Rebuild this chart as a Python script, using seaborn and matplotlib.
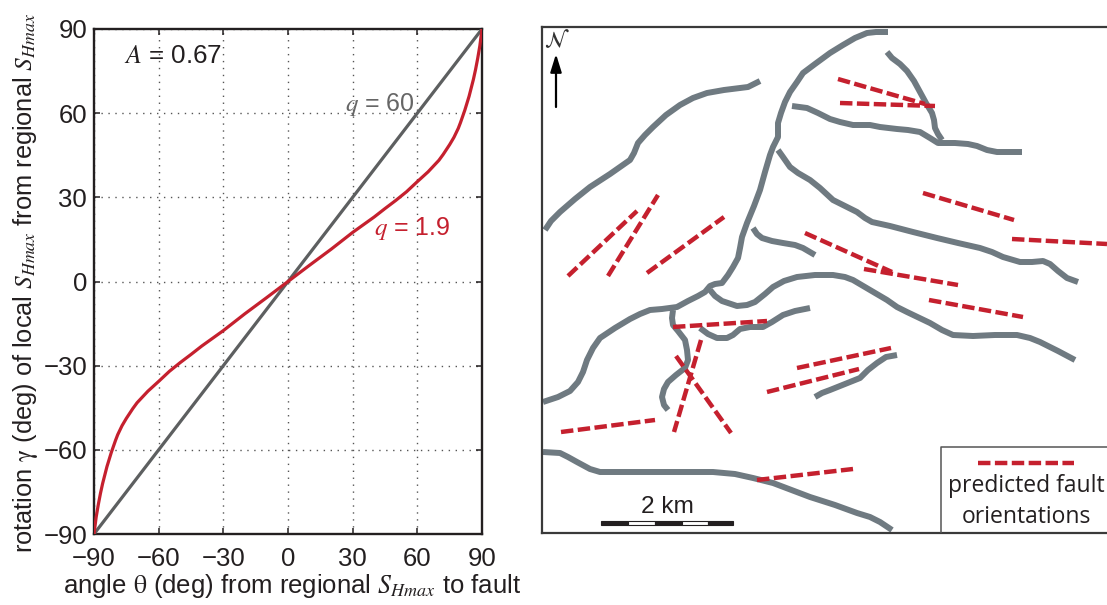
import matplotlib
matplotlib.use("Agg")
import matplotlib.pyplot as plt
import seaborn as sns

W, H = 1107, 605

# ---- left panel data (degrees)
ticks = [-90, -60, -30, 0, 30, 60, 90]
theta_line = [-90, 90]
gamma_line = [-90, 90]
theta_curve = [-90, -89.5, -89, -88, -87, -86, -85, -84, -83, -82, -81, -80, -79, -77, -75, -72, -70, -65, -60, -55, -50, -45, -40, -30, -20, -10, 0,
               10, 20, 30, 40, 45, 50, 55, 60, 65, 70, 72, 75, 77, 79, 80, 81, 82, 83, 84, 85, 86, 87, 88, 89, 89.5, 90]
gamma_curve = [-90, -87, -84, -79.5, -75.5, -72, -69, -66, -63.5, -61, -58.8, -56.6, -54.6, -51.4, -48.8, -45.3, -43.2, -39.1, -35.6, -32, -28.9, -26, -23, -17.5, -11.5, -5.8, 0,
               5.8, 11.5, 17.5, 23, 26, 28.9, 32, 35.6, 39.1, 43.2, 45.3, 48.8, 51.4, 54.6, 56.6, 58.8, 61, 63.5, 66, 69, 72, 75.5, 79.5, 84, 87, 90]

# ---- right panel data (map pixels)
faults = {
    "f1": ([545, 551, 560, 575, 590, 610, 630, 634, 638, 645, 653, 666, 680, 693, 707, 724, 740, 748, 754, 760],
           [230, 221, 212, 199, 187, 174, 160, 153, 143, 135, 127, 115, 105, 98, 93, 90, 88, 87, 84, 81]),
    "f2": ([888, 876, 867, 855, 843, 830, 815, 803, 797, 790, 785, 781, 778, 778, 773, 770, 765, 760, 754, 747, 742, 740, 738, 733, 728, 722, 715, 710, 705, 698, 688, 677, 662, 650, 640, 630, 615, 600, 593, 587, 583, 578, 570, 558, 543],
           [32, 32, 33, 38, 45, 53, 64, 73, 82, 92, 102, 113, 123, 137, 147, 155, 172, 190, 206, 223, 237, 248, 258, 267, 275, 283, 284, 286, 292, 296, 301, 307, 309, 310, 314, 319, 328, 338, 348, 360, 372, 382, 391, 397, 402]),
    "f3": ([1022, 1010, 997, 987, 977, 968, 955, 938, 930, 920, 908, 897, 880, 870, 853, 840, 830, 818, 807, 792],
           [152, 152, 152, 150, 146, 144, 143, 143, 138, 132, 130, 129, 127, 125, 125, 122, 119, 113, 108, 106]),
    "f4": ([887, 892, 900, 907, 914, 920, 926, 932, 934, 935, 938, 942], [52, 58, 64, 71, 81, 92, 103, 113, 120, 128, 134, 140]),
    "f5": ([778, 783, 790, 798, 810, 820, 833, 845, 857, 865, 872, 890, 913, 937, 958, 980, 992, 1003, 1020, 1032, 1043, 1050, 1058, 1067, 1078],
           [150, 157, 167, 173, 180, 188, 200, 206, 212, 218, 222, 226, 232, 238, 243, 248, 252, 257, 262, 262, 261, 264, 271, 278, 282]),
    "f6": ([753, 757, 762, 772, 783, 795, 803, 815], [228, 234, 238, 241, 243, 245, 248, 255]),
    "f7": ([710, 715, 722, 737, 747, 755, 765, 773, 784, 797, 815, 833, 845, 853, 870, 887, 897, 907, 930, 942, 953, 973, 995, 1017, 1030, 1040, 1058, 1075],
           [290, 296, 301, 306, 305, 302, 294, 287, 281, 277, 275, 275, 277, 280, 290, 300, 307, 312, 323, 330, 335, 336, 335, 335, 338, 342, 351, 360]),
    "f8": ([700, 708, 717, 727, 733, 740, 750, 763, 772, 783, 795, 810], [328, 334, 338, 338, 335, 329, 327, 327, 322, 315, 311, 308]),
    "f9": ([673, 672, 673, 678, 685, 687, 688, 685, 676, 668, 664, 662, 664, 668], [310, 318, 325, 331, 340, 350, 360, 368, 375, 382, 389, 397, 405, 410]),
    "f10": ([815, 822, 830, 845, 860, 868, 877, 886, 897], [397, 393, 390, 384, 378, 370, 363, 357, 355]),
    "f11": ([543, 560, 568, 577, 590, 600, 640, 673, 713, 735, 753, 773, 810, 835, 857, 870, 880, 892],
            [452, 453, 457, 462, 469, 472, 472, 472, 472, 474, 478, 483, 497, 505, 513, 517, 522, 530]),
}
predicted = {
    "r1": ([568, 637], [276, 211]), "r2": ([608, 658], [276, 195]), "r3": ([647, 724], [273, 217]),
    "r4": ([838, 925], [79, 104]), "r5": ([840, 935], [103, 106]), "r6": ([923, 1014], [193, 220]),
    "r7": ([1012, 1107], [239, 244]), "r8": ([805, 892], [233, 272]), "r9": ([864, 958], [269, 285]),
    "r10": ([929, 1023], [300, 317]), "r11": ([673, 767], [327, 321]), "r12": ([701, 674], [340, 432]),
    "r13": ([676, 731], [356, 433]), "r14": ([561, 655], [432, 420]), "r15": ([797, 891], [368, 348]),
    "r16": ([767, 859], [392, 369]), "r17": ([757, 853], [480, 469]), "legend": ([978, 1074], [463, 463]),
}
scale_edges = [601, 628, 655, 682, 708, 733]
scale_labels = "2 km"
legend_label = "predicted fault\norientations"

GRAY = "#6f7a81"
RED = "#c5202e"
INK = "#231f20"

sns.set_theme(style="ticks")
plt.rcParams["font.family"] = ["Liberation Sans", "DejaVu Sans"]
plt.rcParams["mathtext.fontset"] = "stix"
plt.rcParams["xtick.direction"] = "in"
plt.rcParams["ytick.direction"] = "in"

fig = plt.figure(figsize=(W / 100, H / 100), dpi=100, facecolor="white")


def box(l, t, r, b):
    return [l / W, 1 - b / H, (r - l) / W, (b - t) / H]


# ---- left panel
ax = fig.add_axes(box(94, 29, 482, 534))
ax.set_xlim(-90, 90)
ax.set_ylim(-90, 90)
ax.grid(True, color="#555555", linestyle=(0, (1, 4)), linewidth=1.0)
ax.set_axisbelow(True)
sns.lineplot(x=theta_line, y=gamma_line, color="#5d5f60", linewidth=2.3, ax=ax, legend=False, zorder=3)
sns.lineplot(x=theta_curve, y=gamma_curve, color=RED, linewidth=2.3, ax=ax, legend=False, zorder=4)
ax.set_xticks(ticks)
ax.set_yticks(ticks)
ax.tick_params(top=True, right=True, length=4, width=1.1, color=INK, labelsize=18.5, labelcolor=INK)
ax.tick_params(axis="x", pad=9)
ax.tick_params(axis="y", pad=5)
for s in ax.spines.values():
    s.set_visible(True)
    s.set_linewidth(1.7)
    s.set_color(INK)
ax.set_xlabel(r"angle $\mathrm{\theta}$ (deg) from regional $S_{Hmax}$ to fault", fontsize=18.5, color=INK)
ax.set_ylabel(r"rotation $\mathrm{\gamma}$ (deg) of local $S_{Hmax}$ from regional $S_{Hmax}$", fontsize=18.3, color=INK)
ax.xaxis.set_label_coords((292 - 94) / 388, -(586 - 534) / 505, transform=ax.transAxes)
ax.yaxis.set_label_coords(-(94 - 26) / 388, (534 - 283) / 505, transform=ax.transAxes)
ax.xaxis.label.set_verticalalignment("center")
ax.yaxis.label.set_verticalalignment("center")
ax.text(-76, 80.5, r"$A$ = 0.67", fontsize=18.7, color=INK, ha="left", va="center")
ax.text(26.5, 63, r"$q$ = 60", fontsize=18, color="#666666", ha="left", va="center")
ax.text(40, 19, r"$q$ = 1.9", fontsize=18, color=RED, ha="left", va="center")

# ---- right panel (map)
mp = fig.add_axes(box(542, 27, 1107, 533))
mp.set_xlim(542, 1107)
mp.set_ylim(533, 27)
mp.set_xticks([])
mp.set_yticks([])
for side, s in mp.spines.items():
    s.set_linewidth(1.6)
    s.set_color("#3a3a3a")
mp.spines["right"].set_visible(False)

for name, (xs, ys) in faults.items():
    sns.lineplot(x=xs, y=ys, sort=False, estimator=None, color=GRAY, linewidth=4.3, ax=mp, legend=False,
                 solid_joinstyle="round", solid_capstyle="butt", zorder=2)
for name, (xs, ys) in predicted.items():
    sns.lineplot(x=xs, y=ys, sort=False, estimator=None, color=RED, linewidth=3.2, ax=mp, legend=False,
                 linestyle=(0, (2.8, 1.0)), zorder=5)

# legend box
mp.plot([941, 941, 1107], [533, 447, 447], color="#555555", linewidth=1.1, zorder=3)
mp.text(1026, 486, legend_label.split("\n")[0], fontsize=16.5, family="Open Sans", color=INK, ha="center", va="center", zorder=6)
mp.text(1026, 517, legend_label.split("\n")[1], fontsize=16.5, family="Open Sans", color=INK, ha="center", va="center", zorder=6)

# scale bar
for i in range(len(scale_edges) - 1):
    a, b = scale_edges[i], scale_edges[i + 1]
    mp.barh(523, b - a, left=a, height=4.5, color=INK if i % 2 == 0 else "white", edgecolor=INK, linewidth=0.8, zorder=4)
mp.text(667, 507, scale_labels, fontsize=17.6, color=INK, ha="center", va="center")

# north arrow
mp.annotate("", xy=(556, 54), xytext=(556, 107),
            arrowprops=dict(arrowstyle="-|>,head_length=0.9,head_width=0.28", color="black", linewidth=1.6, shrinkA=0, shrinkB=0))
mp.text(557, 41, r"$\mathcal{N}$", fontsize=16, color="#333333", ha="center", va="center")

fig.savefig("out.png", dpi=100, facecolor="white")
